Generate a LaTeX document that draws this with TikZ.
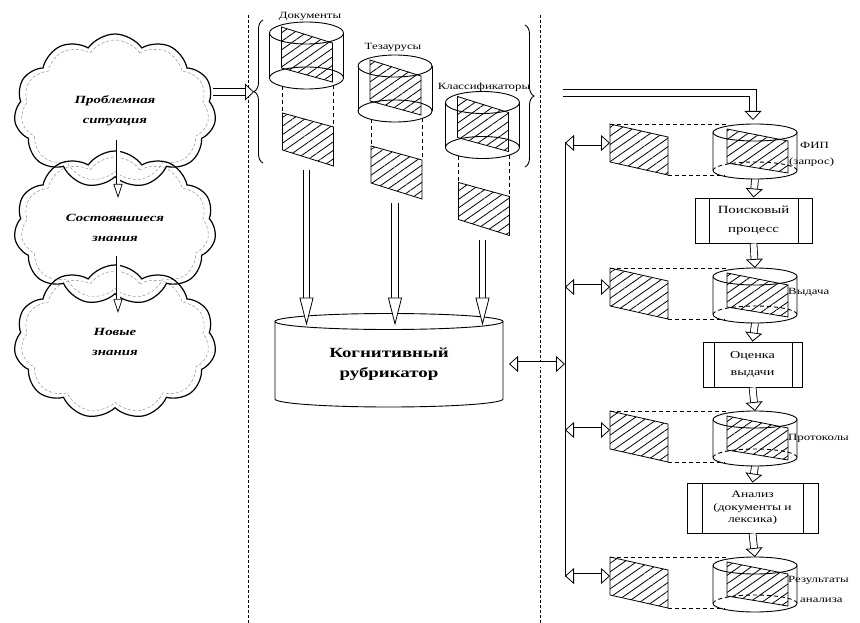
\documentclass[tikz,border=0pt]{standalone}
\usepackage{fontspec}
\setmainfont{Liberation Serif}[FakeStretch=1.35]
\usetikzlibrary{shapes.symbols,patterns.meta,decorations.pathreplacing,calc,arrows.meta}
\tikzset{>=latex}
\tikzset{
  puff/.style={cloud, cloud puffs=11, cloud puff arc=110, aspect=1.35, draw, line width=1.2pt,
    minimum width=202pt, minimum height=154pt, align=center,
    font=\bfseries\itshape\fontsize{11}{20}\selectfont},
  puffshade/.style={cloud, cloud puffs=11, cloud puff arc=110, aspect=1.35, draw=gray,
    densely dashed, thin, minimum width=188pt, minimum height=142pt},
  frame/.style={inner sep=0pt, outer sep=0pt},
  rim/.style={line width=0.9pt},
  procbox/.style={draw, line width=0.9pt, minimum height=45pt, align=center,
    font=\fontsize{11}{19}\selectfont},
  hatch/.style={draw, line width=0.8pt, pattern={Lines[angle=35,distance=7pt,line width=0.8pt]}},
  sep/.style={dash pattern=on 3pt off 2pt, line width=1pt},
  proj/.style={dash pattern=on 4pt off 3pt, line width=0.9pt},
  curly/.style={decorate, decoration={brace, amplitude=9pt}, line width=0.9pt},
  tag/.style={font=\fontsize{9.5}{11}\selectfont, inner sep=0pt},
  hollowthin/.style={line width=0.7pt, double=white, double distance=3pt,
    -{Triangle[fill=white, line width=0.7pt, width=9pt, length=14pt]}},
  hollowbig/.style={line width=0.8pt, double=white, double distance=5.5pt,
    -{Triangle[fill=white, line width=0.8pt, width=14pt, length=28pt]}},
  hollowmid/.style={line width=0.8pt, double=white, double distance=6pt,
    -{Triangle[fill=white, line width=0.8pt, width=17pt, length=9pt]}},
  twoway/.style={line width=0.8pt, double=white, double distance=5pt,
    {Triangle[fill=white, line width=0.8pt, width=16pt, length=9pt]}-{Triangle[fill=white, line width=0.8pt, width=16pt, length=9pt]}}
}

\begin{document}
\begin{tikzpicture}[x=1pt,y=-1pt]
  \useasboundingbox (0,0) rectangle (860,623);

  % Draw the two dashed separators
  \draw[sep] (248,15) -- (248,623);
  \draw[sep] (540,15) -- (540,623);

  % Draw the clouds of the left column
  \node[puffshade] (c1s) at (115,111) {};
  \node[puffshade] (c2s) at (115,228) {};
  \node[puffshade] (c3s) at (115,342) {};
  \node[puff] (c1) at (115,111) {Проблемная\\ситуация};
  \node[puff] (c2) at (115,228) {Состоявшиеся\\знания};
  \node[puff] (c3) at (115,342) {Новые\\знания};
  \draw[hollowthin] ($(c1.center)+(3,29)$) -- ($(c2.center)+(3,-30)$);
  \draw[hollowthin] ($(c2.center)+(3,28)$) -- ($(c3.center)+(3,-29)$);

  % Draw the braces round the three stores
  \coordinate (lb) at (254,92);
  \draw[curly] (263,163) -- (263,20);
  \draw[curly] (525,25) -- (525,167);
  \draw[hollowmid] ([xshift=-2pt]c1.east |- lb) -- (lb);

  % Draw the cognitive rubricator
  \node[frame, minimum width=228pt, minimum height=93pt,
    font=\bfseries\fontsize{14}{20}\selectfont, align=center] (kr) at (389,364) {Когнитивный\\рубрикатор};
  \begin{scope}[shift={(kr.center)}]
    \draw[rim] (0,-42.5) ellipse[x radius=114pt,y radius=8pt];
    \draw[rim] (-114,-42.5) -- (-114,35) arc[start angle=180,end angle=360,x radius=114pt,y radius=8pt] -- (114,-42.5);
  \end{scope}

  % Draw the document store and its cut
  \node[frame, minimum width=74pt, minimum height=67pt] (doc) at (306.5,55.5) {};
  \node[tag] (tdoc) at (310,16) {Документы};
  \begin{scope}[shift={(doc.center)}]
    \draw[hatch] (-25,-28.5) -- (26,-12.5) -- (26,26.5) -- (-25,12.5) -- cycle;
    \draw[rim] (0,-22.5) ellipse[x radius=37pt,y radius=11pt] (0,22.5) ellipse[x radius=37pt,y radius=11pt];
    \draw[rim] (-37,-22.5) -- (-37,22.5) (37,-22.5) -- (37,22.5);
    \draw[proj] (-24,31) -- (-24,57.5) (27,30) -- (27,71.5);
    \draw[hatch] (-24,57.5) -- (27,71.5) -- (27,110.5) -- (-24,94.5) -- cycle;
    \coordinate (doc-out) at (0,115);
  \end{scope}

  % Draw the thesaurus store and its cut
  \node[frame, minimum width=74pt, minimum height=67pt] (thes) at (395,88.5) {};
  \node[tag] (tthes) at (393,47) {Тезаурусы};
  \begin{scope}[shift={(thes.center)}]
    \draw[hatch] (-25,-28.5) -- (26,-12.5) -- (26,26.5) -- (-25,12.5) -- cycle;
    \draw[rim] (0,-22.5) ellipse[x radius=37pt,y radius=11pt] (0,22.5) ellipse[x radius=37pt,y radius=11pt];
    \draw[rim] (-37,-22.5) -- (-37,22.5) (37,-22.5) -- (37,22.5);
    \draw[proj] (-24,31) -- (-24,57.5) (27,30) -- (27,71.5);
    \draw[hatch] (-24,57.5) -- (27,71.5) -- (27,110.5) -- (-24,94.5) -- cycle;
    \coordinate (thes-out) at (0,115);
  \end{scope}

  % Draw the classifier store and its cut
  \node[frame, minimum width=74pt, minimum height=67pt] (cls) at (482.5,125) {};
  \node[tag] (tcls) at (484,87) {Классификаторы};
  \begin{scope}[shift={(cls.center)}]
    \draw[hatch] (-25,-28.5) -- (26,-12.5) -- (26,26.5) -- (-25,12.5) -- cycle;
    \draw[rim] (0,-22.5) ellipse[x radius=37pt,y radius=11pt] (0,22.5) ellipse[x radius=37pt,y radius=11pt];
    \draw[rim] (-37,-22.5) -- (-37,22.5) (37,-22.5) -- (37,22.5);
    \draw[proj] (-24,31) -- (-24,57.5) (27,30) -- (27,71.5);
    \draw[hatch] (-24,57.5) -- (27,71.5) -- (27,110.5) -- (-24,94.5) -- cycle;
    \coordinate (cls-out) at (0,115);
  \end{scope}

  % Draw the arrows down into the rubricator
  \draw[hollowbig] (doc-out) -- ($(doc-out |- kr.north)+(0,8)$);
  \draw[hollowbig] (thes-out) -- ($(thes-out |- kr.north)+(0,8)$);
  \draw[hollowbig] (cls-out) -- ($(cls-out |- kr.north)+(0,8)$);

  % Draw the search chain of the right column
  \node[frame, minimum width=84pt, minimum height=55pt] (q1) at (755,151.5) {};
  \node[frame, minimum width=84pt, minimum height=55pt] (q2) at (755,295.5) {};
  \node[frame, minimum width=84pt, minimum height=55pt] (q3) at (755,438.5) {};
  \node[frame, minimum width=84pt, minimum height=55pt] (q4) at (755,584.5) {};
  \node[procbox, minimum width=117pt] (b1) at (753.5,220.5) {Поисковый\\процесс};
  \node[procbox, minimum width=99pt, font=\fontsize{10.5}{17}\selectfont] (b2) at (752.5,364.5) {Оценка\\выдачи};
  \node[procbox, minimum width=131pt, minimum height=50pt, font=\fontsize{10}{12.5}\selectfont] (b3) at (752.5,508) {Анализ\\(документы и\\лексика)};
  \draw[rim] ([xshift=15pt]b1.north west) -- ([xshift=15pt]b1.south west)
    ([xshift=-14pt]b1.north east) -- ([xshift=-14pt]b1.south east);
  \draw[rim] ([xshift=12pt]b2.north west) -- ([xshift=12pt]b2.south west)
    ([xshift=-10pt]b2.north east) -- ([xshift=-10pt]b2.south east);
  \draw[rim] ([xshift=16pt]b3.north west) -- ([xshift=16pt]b3.south west)
    ([xshift=-15pt]b3.north east) -- ([xshift=-15pt]b3.south east);
  \draw[hollowmid] (q1.south) -- (b1.north);
  \draw[hollowmid] (b1.south) -- (q2.north);
  \draw[hollowmid] (q2.south) -- (b2.north);
  \draw[hollowmid] (b2.south) -- (q3.north);
  \draw[hollowmid] (q3.south) -- (b3.north);
  \draw[hollowmid] (b3.south) -- (q4.north);

  % Labels of the stores on the right
  \node[tag, anchor=west] (t1) at (800,145) {ФИП};
  \node[tag, anchor=west] (t1b) at (789,162) {(запрос)};
  \node[tag, anchor=west] (t2) at (788,292) {Выдача};
  \node[tag, anchor=west] (t3) at (788,438) {Протоколы};
  \node[tag, anchor=west] (t4) at (788,580) {Результаты};
  \node[tag, anchor=west] (t4b) at (800,600) {анализа};

  % Draw each store with the cut beside it
  \foreach \q/\p in {q1/p1,q2/p2,q3/p3,q4/p4}{
    \begin{scope}[shift={(\q.center)}]
      \draw[hatch] (-28,-22.5) -- (33,-10.5) -- (33,21.5) -- (-28,11.5) -- cycle;
      \draw[rim] (0,-19) ellipse[x radius=42pt,y radius=8.5pt];
      \draw[rim] (-42,-19) -- (-42,19) arc[start angle=180,end angle=360,x radius=42pt,y radius=8.5pt] -- (42,-19);
      \draw[proj] (-42,19) arc[start angle=180,end angle=0,x radius=42pt,y radius=8.5pt];
      \draw[hatch] (-145,-27.5) -- (-87,-14.5) -- (-87,23.5) -- (-145,10.5) -- cycle;
      \draw[proj] (-145,-27.5) -- (-28,-27.5) (-87,23.5) -- (-30,23.5);
      \coordinate (\p) at (-145,-8.5);
    \end{scope}
  }

  % Draw the common line and the two-way arrows
  \coordinate (st) at (565,142);
  \coordinate (sb) at (565,577);
  \draw[rim] (st) -- (sb);
  \draw[twoway] (p1 -| st) -- (p1);
  \draw[twoway] (p2 -| st) -- (p2);
  \draw[twoway] (p3 -| st) -- (p3);
  \draw[twoway] (p4 -| st) -- (p4);
  \draw[twoway] ([xshift=6pt]kr.east) -- (kr.east -| st);

  % Draw the bent arrow into the query
  \coordinate (ts) at (563,93);
  \draw[hollowmid] (ts) -| ($(q1.north)+(-2,-4)$);
\end{tikzpicture}
\end{document}
